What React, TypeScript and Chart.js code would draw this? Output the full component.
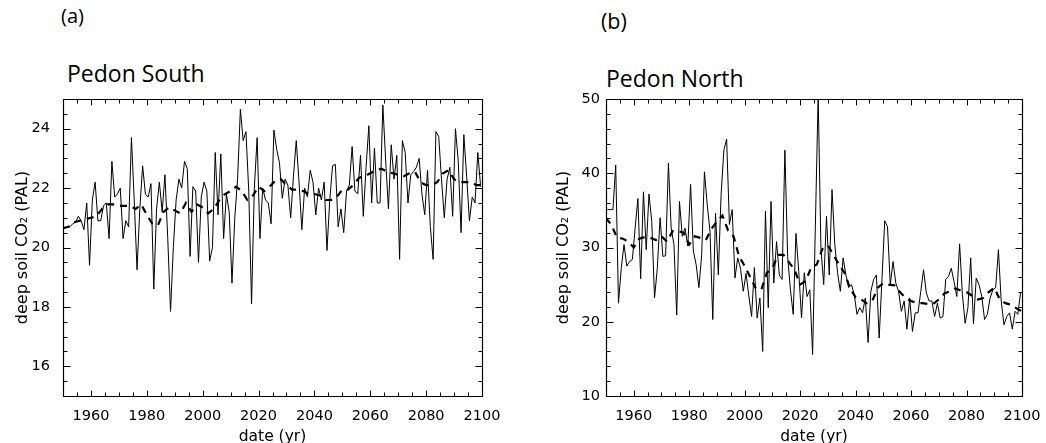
import React, { useEffect, useRef } from "react";
import { Chart, registerables } from "chart.js";
Chart.register(...registerables);

// ---------- data ----------
const firstYear = 1950.5;

const southAnnual = [
  20.65, 20.7, 20.7, 20.8, 20.85, 21.05, 20.9, 20.6, 21.5, 19.4, 21.6, 22.2, 20.9, 20.9, 21.4, 21.5, 20.3, 22.9, 21.7, 21.8,
  22.0, 20.3, 20.9, 20.7, 23.7, 21.6, 19.25, 21.3, 22.75, 21.8, 21.7, 22.15, 18.6, 21.3, 22.2, 21.2, 22.45, 20.3, 17.85, 20.0,
  21.6, 22.3, 22.0, 22.9, 22.65, 19.7, 22.05, 21.9, 19.5, 21.7, 22.2, 21.9, 19.55, 20.0, 23.2, 21.1, 23.15, 20.3, 21.8, 21.2,
  18.8, 21.0, 22.3, 24.65, 23.6, 23.9, 21.9, 18.1, 22.0, 23.7, 20.3, 22.0, 21.6, 21.5, 20.8, 23.95, 23.3, 22.85, 21.66, 22.3,
  22.1, 21.0, 22.4, 23.6, 22.2, 20.6, 22.0, 21.7, 22.6, 22.2, 21.1, 22.0, 21.6, 22.2, 19.9, 21.6, 22.75, 22.8, 20.7, 21.3,
  20.5, 21.9, 22.1, 23.4, 21.9, 21.8, 23.1, 21.05, 22.7, 24.1, 21.5, 23.35, 21.5, 21.5, 24.8, 22.95, 21.3, 23.46, 22.3, 23.1,
  19.6, 23.6, 23.2, 21.5, 22.45, 22.56, 22.7, 23.0, 21.8, 21.1, 22.6, 20.7, 19.6, 23.9, 23.74, 22.3, 21.0, 22.3, 22.7, 21.05,
  24.0, 22.9, 20.5, 23.8, 22.4, 20.9, 21.7, 21.5, 23.2, 22.05,
];

const northAnnual = [
  35.1, 35.1, 35.1, 41.1, 22.5, 27.2, 30.4, 27.5, 28.1, 28.4, 32.6, 36.6, 25.8, 37.5, 29.7, 37.2, 33.5, 23.2, 27.2, 34.0,
  28.8, 28.9, 41.35, 32.6, 30.4, 20.9, 36.2, 31.5, 32.6, 30.2, 38.5, 29.5, 27.7, 24.6, 29.0, 40.2, 35.75, 32.2, 20.3, 34.6,
  26.3, 37.1, 43.1, 44.6, 33.1, 35.1, 25.9, 28.6, 27.2, 24.1, 26.5, 23.5, 20.7, 27.3, 20.5, 23.2, 16.0, 34.9, 21.9, 36.2,
  25.2, 30.8, 26.3, 25.7, 43.1, 28.8, 24.3, 21.0, 31.9, 26.8, 20.5, 26.6, 23.4, 24.3, 15.6, 33.0, 50.5, 29.9, 25.0, 34.2,
  26.3, 37.8, 30.4, 26.6, 24.1, 28.6, 26.3, 24.6, 25.0, 23.7, 21.0, 21.9, 21.2, 23.2, 17.2, 24.1, 25.7, 26.3, 17.8, 25.7,
  33.6, 32.8, 25.0, 28.1, 25.2, 24.1, 21.4, 22.8, 19.0, 23.2, 18.7, 21.2, 21.2, 24.1, 27.0, 23.9, 22.8, 22.8, 20.7, 22.5,
  20.5, 20.7, 25.7, 26.1, 27.2, 25.4, 23.4, 30.5, 23.7, 19.8, 21.9, 28.6, 19.7, 25.9, 25.0, 23.4, 20.3, 21.0, 23.2, 24.3,
  24.6, 29.7, 22.8, 19.6, 20.7, 21.2, 19.0, 21.4, 21.0, 24.0,
];

const smoothYearsSouth = [
  1950, 1952, 1954, 1956, 1958, 1960, 1962, 1964, 1966, 1968, 1970, 1972, 1974, 1976, 1978, 1980, 1982, 1984, 1986, 1988,
  1990, 1992, 1994, 1996, 1998, 2000, 2002, 2004, 2006, 2008, 2010, 2012, 2014, 2016, 2018, 2020, 2022, 2024, 2026, 2028,
  2030, 2032, 2034, 2036, 2038, 2040, 2042, 2044, 2046, 2048, 2050, 2052, 2054, 2056, 2058, 2060, 2062, 2064, 2066, 2068,
  2070, 2072, 2074, 2076, 2078, 2080, 2082, 2084, 2086, 2088, 2090, 2092, 2094, 2096, 2098, 2100,
];
const smoothSouth = [
  20.65, 20.7, 20.85, 20.9, 20.95, 21.0, 21.05, 21.3, 21.45, 21.45, 21.4, 21.4, 21.4, 21.3, 21.45, 21.1, 20.8, 20.75, 21.2, 21.35,
  21.25, 21.15, 21.5, 21.2, 21.45, 21.35, 21.15, 21.3, 21.6, 21.8, 21.9, 22.05, 21.9, 21.6, 21.75, 22.05, 21.9, 22.05, 22.25, 22.3,
  22.1, 21.95, 21.95, 21.9, 21.8, 21.8, 21.75, 21.6, 21.6, 21.7, 21.95, 21.95, 22.1, 22.35, 22.4, 22.5, 22.6, 22.65, 22.55, 22.5,
  22.45, 22.4, 22.5, 22.55, 22.2, 22.1, 22.1, 22.2, 22.5, 22.6, 22.3, 22.2, 22.2, 22.2, 22.1, 22.1,
];

const smoothYearsNorth = [
  1950, 1952, 1954, 1956, 1958, 1960, 1962, 1964, 1966, 1968, 1970, 1972, 1974, 1976, 1978, 1980, 1982, 1984, 1986, 1988,
  1990, 1992, 1994, 1996, 1998, 2000, 2002, 2004, 2006, 2008, 2010, 2012, 2014, 2016, 2018, 2020, 2022, 2024, 2026, 2028,
  2030, 2032, 2034, 2036, 2038, 2040, 2042, 2044, 2046, 2048, 2050, 2052, 2054, 2056, 2058, 2060, 2062, 2064, 2066, 2068,
  2070, 2072, 2074, 2076, 2078, 2080, 2082, 2084, 2086, 2088, 2090, 2092, 2094, 2096, 2098, 2100,
];
const smoothNorth = [
  34.0, 33.0, 31.3, 31.2, 30.8, 30.0, 31.2, 31.4, 31.3, 31.0, 31.5, 30.8, 32.2, 32.2, 32.0, 30.4, 31.5, 31.3, 31.0, 32.5,
  33.5, 34.3, 32.3, 31.5, 28.8, 27.5, 26.0, 24.5, 24.3, 26.6, 27.2, 29.0, 29.0, 28.0, 27.0, 25.0, 25.5, 27.3, 27.7, 29.8,
  30.3, 29.0, 27.7, 26.6, 24.5, 23.3, 23.0, 22.5, 22.8, 24.6, 25.2, 25.0, 24.9, 24.0, 23.2, 22.8, 22.5, 22.5, 22.4, 22.4,
  23.0, 23.8, 24.1, 24.5, 24.2, 24.0, 23.5, 23.0, 23.2, 24.0, 24.6, 23.0, 22.5, 22.3, 21.8, 21.4,
];

const xTickLabels = [1960, 1980, 2000, 2020, 2040, 2060, 2080, 2100];
const yTicksSouth = [16, 18, 20, 22, 24];
const yTicksNorth = [10, 20, 30, 40, 50];

// ---------- box with inward ticks (IDL style) ----------
const boxTicks = {
  id: "boxTicks",
  afterDatasetsDraw(chart: any, _args: any, opts: any) {
    const { ctx, chartArea: a, scales } = chart;
    const xs = scales.x;
    const ys = scales.y;
    const L = Math.round(a.left) + 0.5;
    const R = Math.round(a.right) + 0.5;
    const T = Math.round(a.top) + 0.5;
    const B = Math.round(a.bottom) + 0.5;
    ctx.save();
    ctx.strokeStyle = "#000";
    ctx.lineWidth = 1.2;
    ctx.beginPath();
    ctx.rect(L, T, R - L, B - T);
    ctx.stroke();
    ctx.lineWidth = 1;
    ctx.beginPath();
    for (let v = xs.min; v <= xs.max + 1e-9; v += opts.xMinor) {
      const px = Math.round(xs.getPixelForValue(v)) + 0.5;
      const len = opts.xMajorList.includes(v) ? 6 : 4;
      ctx.moveTo(px, B);
      ctx.lineTo(px, B - len);
      ctx.moveTo(px, T);
      ctx.lineTo(px, T + len);
    }
    for (let v = ys.min; v <= ys.max + 1e-9; v += opts.yMinor) {
      const py = Math.round(ys.getPixelForValue(v)) + 0.5;
      const len = opts.yMajorList.includes(Math.round(v * 100) / 100) ? 7 : 4;
      ctx.moveTo(L, py);
      ctx.lineTo(L + len, py);
      ctx.moveTo(R, py);
      ctx.lineTo(R - len, py);
    }
    ctx.stroke();
    ctx.restore();
  },
};

type PanelProps = {
  annual: number[];
  smoothYears: number[];
  smooth: number[];
  yMin: number;
  yMax: number;
  yTicks: number[];
  yMinor: number;
  width: number;
  height: number;
  yWidth: number;
  yPad: number;
  yTitlePad: number;
  padRight: number;
  left: number;
};

function Panel(p: PanelProps) {
  const ref = useRef<HTMLCanvasElement | null>(null);
  useEffect(() => {
    if (!ref.current) return;
    const fam = "'DejaVu Sans', sans-serif";
    const chart = new Chart(ref.current, {
      type: "line",
      data: {
        datasets: [
          {
            data: p.smoothYears.map((x, i) => ({ x, y: p.smooth[i] })),
            borderColor: "#000",
            borderWidth: 2.2,
            borderDash: [7, 6],
            pointRadius: 0,
            tension: 0,
            fill: false,
          },
          {
            data: p.annual.map((v, i) => ({ x: firstYear + i, y: v })),
            borderColor: "#000",
            borderWidth: 1,
            pointRadius: 0,
            tension: 0,
            fill: false,
          },
        ],
      },
      options: {
        responsive: false,
        animation: false,
        events: [],
        layout: { padding: { top: 9, right: p.padRight, left: 0, bottom: 0 } },
        plugins: {
          legend: { display: false },
          tooltip: { enabled: false },
          boxTicks: {
            xMinor: 5,
            xMajorList: xTickLabels,
            yMinor: p.yMinor,
            yMajorList: p.yTicks,
          },
        } as any,
        scales: {
          x: {
            type: "linear",
            min: 1950,
            max: 2100,
            afterBuildTicks: (s: any) => {
              s.ticks = xTickLabels.map((v) => ({ value: v }));
            },
            afterFit: (s: any) => {
              s.height = 47;
              s.paddingLeft = 0;
              s.paddingRight = 0;
            },
            grid: { display: false, drawTicks: false },
            border: { display: false },
            ticks: {
              padding: 12,
              font: { family: fam, size: 14.5 },
              color: "#000",
              maxRotation: 0,
              autoSkip: false,
              callback: (v: any) => String(v),
            },
            title: {
              display: true,
              text: "date (yr)",
              font: { family: fam, size: 15.5, lineHeight: 1 },
              color: "#000",
              padding: { top: 0, bottom: -2 },
            },
          },
          y: {
            type: "linear",
            min: p.yMin,
            max: p.yMax,
            afterBuildTicks: (s: any) => {
              s.ticks = p.yTicks.map((v) => ({ value: v }));
            },
            afterFit: (s: any) => {
              s.width = p.yWidth;
              s.paddingTop = 0;
              s.paddingBottom = 0;
            },
            grid: { display: false, drawTicks: false },
            border: { display: false },
            ticks: {
              padding: p.yPad,
              font: { family: fam, size: 14.5 },
              color: "#000",
              autoSkip: false,
              callback: (v: any) => String(v),
            },
            title: {
              display: true,
              text: "deep soil CO₂ (PAL)",
              font: { family: fam, size: 16, lineHeight: 1.2 },
              color: "#000",
              padding: { top: p.yTitlePad, bottom: 0 },
            },
          },
        },
      },
      plugins: [boxTicks as any],
    });
    return () => chart.destroy();
  }, []);
  return (
    <canvas
      ref={ref}
      width={p.width}
      height={p.height}
      style={{ position: "absolute", left: p.left, top: 90, display: "block" }}
    />
  );
}

const labelStyle = (left: number, top: number, size: number): React.CSSProperties => ({
  position: "absolute",
  left,
  top,
  fontFamily: "'Open Sans', 'Noto Sans', sans-serif",
  fontSize: size,
  lineHeight: 1,
  whiteSpace: "nowrap",
  color: "#000",
});

export default function App() {
  return (
    <div
      style={{
        position: "absolute",
        left: 0,
        top: 0,
        width: 1046,
        height: 443,
        overflow: "hidden",
        background: "#fff",
      }}
    >
      <div style={labelStyle(61, 6, 20)}>(a)</div>
      <div style={labelStyle(67, 61.5, 23)}>Pedon South</div>
      <div style={labelStyle(601, 9.5, 21.5)}>(b)</div>
      <div style={labelStyle(606, 66.5, 23)}>Pedon North</div>
      <Panel
        annual={southAnnual}
        smoothYears={smoothYearsSouth}
        smooth={smoothSouth}
        yMin={15}
        yMax={25}
        yTicks={yTicksSouth}
        yMinor={0.5}
        width={520}
        height={353}
        yWidth={63}
        yPad={13}
        yTitlePad={13}
        padRight={38}
        left={0}
      />
      <Panel
        annual={northAnnual}
        smoothYears={smoothYearsNorth}
        smooth={smoothNorth}
        yMin={10}
        yMax={50}
        yTicks={yTicksNorth}
        yMinor={2}
        width={526}
        height={353}
        yWidth={86}
        yPad={6}
        yTitlePad={34}
        padRight={24}
        left={520}
      />
    </div>
  );
}
